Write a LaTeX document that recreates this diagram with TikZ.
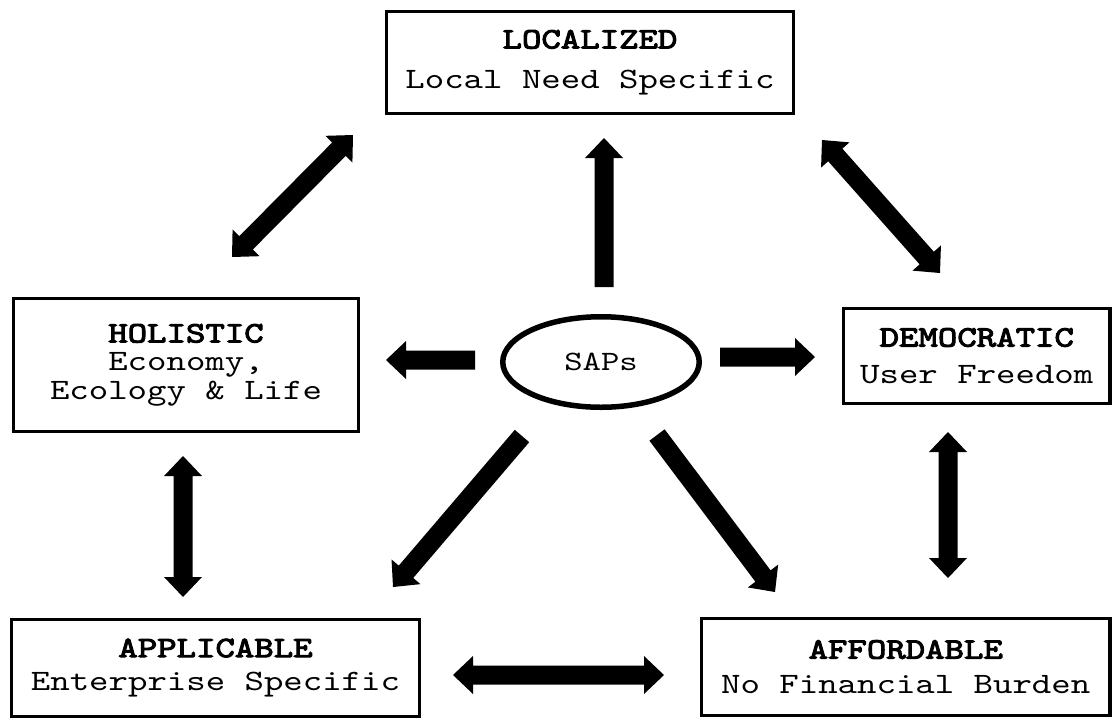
\documentclass[tikz,border=0pt]{standalone}
\usepackage{fontspec}
\usetikzlibrary{calc,shapes.geometric}
\newfontfamily\cour[Extension=.otf, UprightFont=lmmono10-regular, BoldFont=lmmono10-regular,
  BoldFeatures={FakeBold=3.5}, FakeStretch=1.25]{lmmono10-regular}
\tikzset{
  box/.style={draw, line width=1.75pt, rectangle, inner sep=0pt, align=center,
    font=\cour\fontsize{14.8}{20}\selectfont},
  oval/.style={draw, line width=2.75pt, ellipse, inner sep=0pt,
    font=\cour\fontsize{14}{16}\selectfont},
  arrowfill/.style={fill=black}
}
\newcommand\blkarrow[2]{%
  \coordinate (hb) at ($(#2)!10pt!(#1)$);
  \fill[arrowfill] ($(#1)!4.75pt!90:(#2)$) -- ($(hb)!4.75pt!90:(#2)$) -- ($(hb)!9.5pt!90:(#2)$) -- (#2)
    -- ($(hb)!9.5pt!-90:(#2)$) -- ($(hb)!4.75pt!-90:(#2)$) -- ($(#1)!4.75pt!-90:(#2)$) -- cycle;}
\newcommand\blkdarrow[2]{%
  \coordinate (ha) at ($(#1)!10pt!(#2)$);
  \coordinate (hb) at ($(#2)!10pt!(#1)$);
  \fill[arrowfill] (#1) -- ($(ha)!9.5pt!90:(#2)$) -- ($(ha)!4.75pt!90:(#2)$) -- ($(hb)!4.75pt!90:(#2)$)
    -- ($(hb)!9.5pt!90:(#2)$) -- (#2) -- ($(hb)!9.5pt!-90:(#2)$) -- ($(hb)!4.75pt!-90:(#2)$)
    -- ($(ha)!4.75pt!-90:(#2)$) -- ($(ha)!9.5pt!-90:(#2)$) -- cycle;}
\begin{document}
\begin{tikzpicture}[x=0.5pt,y=-0.5pt]
\useasboundingbox (0,0) rectangle (1114,719);
% boxes
\node[box, minimum width=203.5pt, minimum height=51pt] (loc) at (590,62.5)
  {\textbf{LOCALIZED}\\Local Need Specific};
\node[box, minimum width=172.5pt, minimum height=66.5pt, font=\cour\fontsize{14.8}{14.2}\selectfont] (hol) at (186,365)
  {\textbf{HOLISTIC}\\Economy,\\Ecology \& Life};
\node[box, minimum width=133.25pt, minimum height=47.5pt, font=\cour\fontsize{14.8}{18.5}\selectfont] (dem) at (976.75,356)
  {\textbf{DEMOCRATIC}\\User Freedom};
\node[box, minimum width=204pt, minimum height=48.5pt, font=\cour\fontsize{14.8}{16.8}\selectfont] (app) at (215.5,668)
  {\textbf{APPLICABLE}\\Enterprise Specific};
\node[box, minimum width=204.25pt, minimum height=48.5pt, font=\cour\fontsize{14.8}{17.5}\selectfont] (aff) at (905.75,667)
  {\textbf{AFFORDABLE}\\No Financial Burden};
\node[oval, minimum width=98.25pt, minimum height=45.25pt] (sap) at (601,362) {SAPs};
% arrow end points
\coordinate (s1) at (604,287); \coordinate (e1) at (604,138);
\coordinate (s2) at (475,360); \coordinate (e2) at (386,360);
\coordinate (s3) at (720,357); \coordinate (e3) at (815,357);
\coordinate (s4) at (522,436); \coordinate (e4) at (393,587);
\coordinate (s5) at (657,435); \coordinate (e5) at (775,592);
\coordinate (s6) at (232,257); \coordinate (e6) at (353,135);
\coordinate (s7) at (822,140); \coordinate (e7) at (940,273);
\coordinate (s8) at (183,456); \coordinate (e8) at (183,597);
\coordinate (s9) at (948,432); \coordinate (e9) at (948,578);
\coordinate (s10) at (453,675); \coordinate (e10) at (664,675);
\blkarrow{s1}{e1}
\blkarrow{s2}{e2}
\blkarrow{s3}{e3}
\blkarrow{s4}{e4}
\blkarrow{s5}{e5}
\blkdarrow{s6}{e6}
\blkdarrow{s7}{e7}
\blkdarrow{s8}{e8}
\blkdarrow{s9}{e9}
\blkdarrow{s10}{e10}
\end{tikzpicture}
\end{document}
